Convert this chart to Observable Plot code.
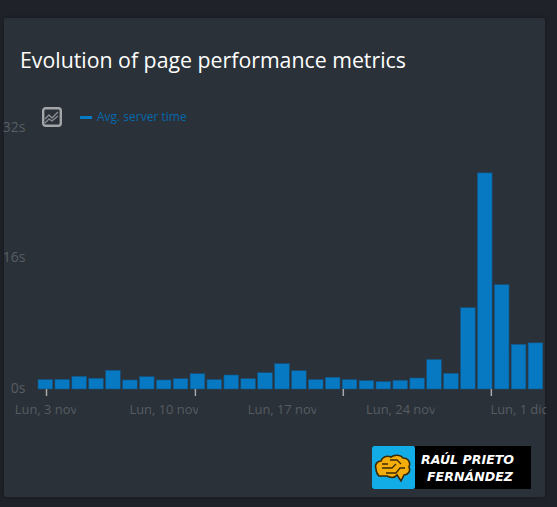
<!DOCTYPE html>
<html>
<head>
<meta charset="utf-8">
<script src="https://cdn.jsdelivr.net/npm/d3@7"></script>
<script src="https://cdn.jsdelivr.net/npm/@observablehq/plot@0.6"></script>
<style>
html,body{margin:0;padding:0;background:#1f2329;width:557px;height:507px;overflow:hidden;font-family:"Open Sans",sans-serif}
#card{position:absolute;left:4px;top:18px;width:541px;height:479px;background:#2b3138;border-radius:2px;box-shadow:0 0 4px rgba(0,0,0,.35)}
#title{position:absolute;left:20px;top:45px;color:#fff;font-size:21.3px;line-height:30px;white-space:nowrap}
#icon{position:absolute;left:41px;top:106px}
#dash{position:absolute;left:80px;top:116px;width:12px;height:2.5px;background:#0679c2}
#legend{position:absolute;left:97px;top:108px;color:#0668ad;font-size:12px;line-height:18px;white-space:nowrap}
#chart{position:absolute;left:0;top:100px}
#logo{position:absolute;left:372px;top:446px;width:159px;height:43px;background:#000}
#logoBox{position:absolute;left:0;top:0;width:43px;height:43px;background:#12ace6;border-radius:2px}
#logoText{position:absolute;left:49px;top:5px;width:106px;color:#fff;font-family:"DejaVu Sans",sans-serif;font-weight:bold;font-style:italic;font-size:12.6px;line-height:17px;letter-spacing:0;white-space:nowrap}
#logoText span{display:block}
#logoText span+span{padding-left:6px}
</style>
</head>
<body>
<div id="card"></div>
<div id="title">Evolution of page performance metrics</div>
<svg id="icon" width="22" height="22" viewBox="0 0 22 22">
  <rect x="2.2" y="2.2" width="17.6" height="17.6" rx="2.5" fill="none" stroke="#a3a6a9" stroke-width="2.4"/>
  <path d="M4 13 L8 9 L11 12 L17 6" fill="none" stroke="#8d9195" stroke-width="1.3"/>
  <path d="M4 17 L8 13 L11 15 L17 10" fill="none" stroke="#8d9195" stroke-width="1.3"/>
</svg>
<div id="dash"></div>
<div id="legend">Avg. server time</div>
<div id="chart"></div>
<div id="logo">
  <div id="logoBox">
    <svg width="43" height="43" viewBox="0 0 43 43">
      <path d="M4 23 C2 18 6 15 9 15 C10 11 15 9 19 11 C23 8 29 9 31 12 C36 12 39 16 37 21 C39 25 36 29 32 29 L29 35 L25 29 C22 33 17 31 15 30 L7 30 C5 28 4 26 4 23 Z" fill="#f5ad0c" stroke="#3a2a05" stroke-width="1.6"/>
      <path d="M10 22 L20 22 L24 18 M14 27 L24 27 L28 22 L33 22 M18 14 L25 14 L29 18 M10 18 L16 18" fill="none" stroke="#3a2a05" stroke-width="1.3"/>
    </svg>
  </div>
  <div id="logoText"><span>RAÚL PRIETO</span><span>FERNÁNDEZ</span></div>
</div>
<script>
const barDays = d3.range(30);
const serverTime = [1.16,1.19,1.56,1.32,2.3,1.11,1.51,1.11,1.27,1.88,1.16,1.72,1.27,2.0,3.11,2.25,1.16,1.44,1.16,1.03,0.91,1.07,1.35,3.62,1.93,9.97,26.5,12.8,5.48,5.66];
const yTicks = [0,16,32];
const labelDays = [0,7,14,21,28];
const labelTexts = ["Lun, 3 nov","Lun, 10 nov","Lun, 17 nov","Lun, 24 nov","Lun, 1 dic"];
const tickDays = [0.04,8.85,17.6,26.36];
const barHalf = 0.435;

const rows = barDays.map((d,i)=>({day:d,value:serverTime[i]}));
const labels = labelDays.map((d,i)=>({day:d,text:labelTexts[i]}));

const plot = Plot.plot({
  width:557,height:320,
  marginLeft:36.9,marginRight:13.1,marginTop:28,marginBottom:31,
  style:{background:"transparent",fontFamily:"'Open Sans',sans-serif"},
  x:{domain:[-0.5,29.5],axis:null},
  y:{domain:[0,32],axis:null},
  marks:[
    Plot.text(yTicks,{y:d=>d,text:d=>d+"s",frameAnchor:"left",dx:-12,dy:-1,textAnchor:"end",fill:"#575d63",fontSize:14}),
    Plot.rectY(rows,{x1:d=>d.day-barHalf,x2:d=>d.day+barHalf,y:"value",fill:"#0679c2",stroke:"#14527f",strokeWidth:0.6}),
    Plot.axisX({ticks:tickDays,tickFormat:()=>"",tickSize:7,tickPadding:0,stroke:"#a8a8a8",strokeWidth:1.5,label:null,anchor:"bottom"}),
    Plot.text(labels,{x:"day",y:0,text:"text",dy:20,fill:"#565c62",fontSize:12.9,textAnchor:"middle",className:"xlabel"})
  ]
});
document.getElementById("chart").appendChild(plot);
d3.select(plot).selectAll(".xlabel text").style("clip-path","inset(-2px 1.5px -2px 0)");
</script>
</body>
</html>
